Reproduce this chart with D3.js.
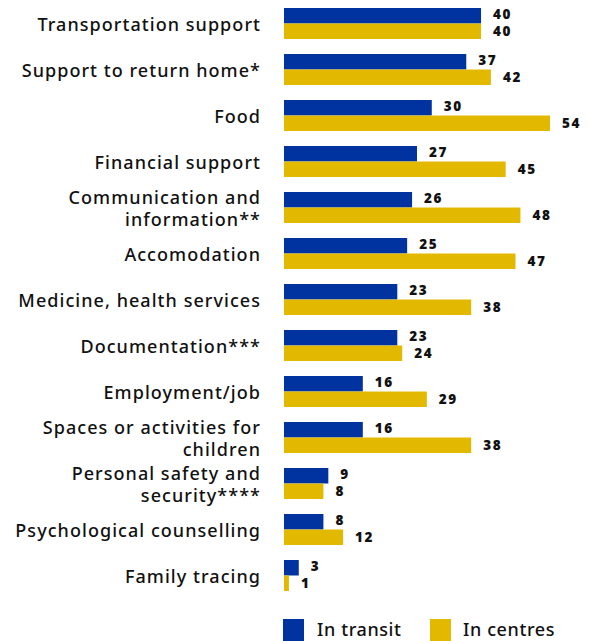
<!DOCTYPE html>
<html><head><meta charset="utf-8">
<script src="https://cdn.jsdelivr.net/npm/d3@7"></script>
<style>body{margin:0;background:#fff}</style>
</head><body>
<script>
const categories = ["Transportation support","Support to return home*","Food","Financial support","Communication and information**","Accomodation","Medicine, health services","Documentation***","Employment/job","Spaces or activities for children","Personal safety and security****","Psychological counselling","Family tracing"];
const labelLines = [["Transportation support"],["Support to return home*"],["Food"],["Financial support"],["Communication and","information**"],["Accomodation"],["Medicine, health services"],["Documentation***"],["Employment/job"],["Spaces or activities for","children"],["Personal safety and","security****"],["Psychological counselling"],["Family tracing"]];
const seriesNames = ["In transit","In centres"];
const inTransit = [40,37,30,27,26,25,23,23,16,16,9,8,3];
const inCentres = [40,42,54,45,48,47,38,24,29,38,8,12,1];
const colors = ["#0033a0","#e3b900"];

const W=590,H=641;
const svg=d3.select("body").append("svg").attr("width",W).attr("height",H);
const y=d3.scaleBand().domain(categories).range([8,591]).paddingInner(15/46).paddingOuter(0);
const ys=d3.scaleBand().domain(seriesNames).range([0,y.bandwidth()]);
const x=d3.scaleLinear().domain([0,54]).range([284,550]);
const series=[inTransit,inCentres];
const font="'Noto Sans', sans-serif";

categories.forEach((c,i)=>{
  const g=svg.append("g").attr("transform",`translate(0,${y(c)})`);
  series.forEach((s,j)=>{
    g.append("rect").attr("x",x(0)).attr("y",ys(seriesNames[j])).attr("width",x(s[i])-x(0)).attr("height",ys.bandwidth()).attr("fill",colors[j]);
    g.append("text").attr("x",x(s[i])+12).attr("y",ys(seriesNames[j])+ys.bandwidth()/2+(j===0?-1:0)).attr("dy","0.35em")
      .attr("font-family",font).attr("font-weight",900).attr("font-size",13.5).attr("letter-spacing",1.6).attr("fill","#111").text(s[i]);
  });
  const lines=labelLines[i];
  const cy=y.bandwidth()/2+1.5;
  const lh=22;
  lines.forEach((l,k)=>{
    g.append("text").attr("x",261).attr("y",cy+(k-(lines.length-1)/2)*lh).attr("dy","0.36em")
      .attr("text-anchor","end").attr("font-family",font).attr("font-weight",500).attr("font-size",18).attr("letter-spacing",1.05).attr("fill","#111").text(l);
  });
});

// legend
const leg=[{x:283,tx:317},{x:430,tx:463}];
seriesNames.forEach((n,j)=>{
  svg.append("rect").attr("x",leg[j].x).attr("y",619).attr("width",21).attr("height",22).attr("fill",colors[j]);
  svg.append("text").attr("x",leg[j].tx).attr("y",636).attr("font-family",font).attr("font-weight",500).attr("font-size",18).attr("letter-spacing",0.6).attr("fill","#111").text(n);
});
</script>
</body></html>
